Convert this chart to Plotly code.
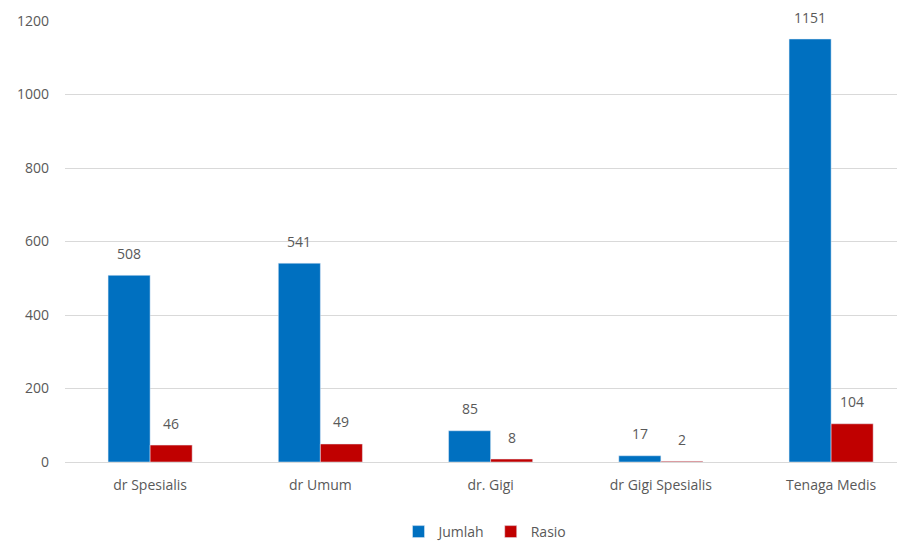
import plotly.graph_objects as go

categories = ["dr Spesialis", "dr Umum", "dr. Gigi", "dr Gigi Spesialis", "Tenaga Medis"]
jumlah = [508, 541, 85, 17, 1151]
rasio = [46, 49, 8, 2, 104]
y_ticks = [0, 200, 400, 600, 800, 1000, 1200]

BLUE = "#0070C0"
RED = "#C00000"
FONT = "Open Sans"
GRAY = "#595959"

fig = go.Figure()
fig.add_trace(go.Bar(name="Jumlah", x=categories, y=jumlah, marker_color=BLUE))
fig.add_trace(go.Bar(name="Rasio", x=categories, y=rasio, marker_color=RED))

for cat, v in zip(categories, jumlah):
    fig.add_annotation(x=cat, y=v, text=str(v), showarrow=False, xshift=-21, yshift=22,
                       font=dict(family=FONT, size=14, color=GRAY))
for cat, v in zip(categories, rasio):
    fig.add_annotation(x=cat, y=v, text=str(v), showarrow=False, xshift=21, yshift=22,
                       font=dict(family=FONT, size=14, color=GRAY))

fig.update_layout(
    width=905, height=543,
    margin=dict(l=57, r=8, t=13, b=89, autoexpand=False),
    paper_bgcolor="white", plot_bgcolor="white",
    barmode="group", bargap=0.506, bargroupgap=0,
    font=dict(family=FONT, size=14, color=GRAY),
    showlegend=True,
    legend=dict(orientation="h", x=0.5, xanchor="center", y=0.035, yanchor="middle",
                yref="container",
                font=dict(family=FONT, size=14, color=GRAY), itemwidth=30,
                traceorder="normal"),
    xaxis=dict(range=[-0.5, 4.434], showgrid=False, showline=False, ticks="",
               automargin=False, ticklabelstandoff=13,
               tickfont=dict(family=FONT, size=14, color=GRAY)),
    yaxis=dict(range=[0, 1200], tickvals=y_ticks, showgrid=True, gridcolor="#D9D9D9",
               gridwidth=1, zeroline=True, zerolinecolor="#D9D9D9",
               zerolinewidth=1, showline=False, ticks="", ticklabelstandoff=15,
               automargin=False,
               tickfont=dict(family=FONT, size=14, color=GRAY)),
)

fig.write_html("out.html")
